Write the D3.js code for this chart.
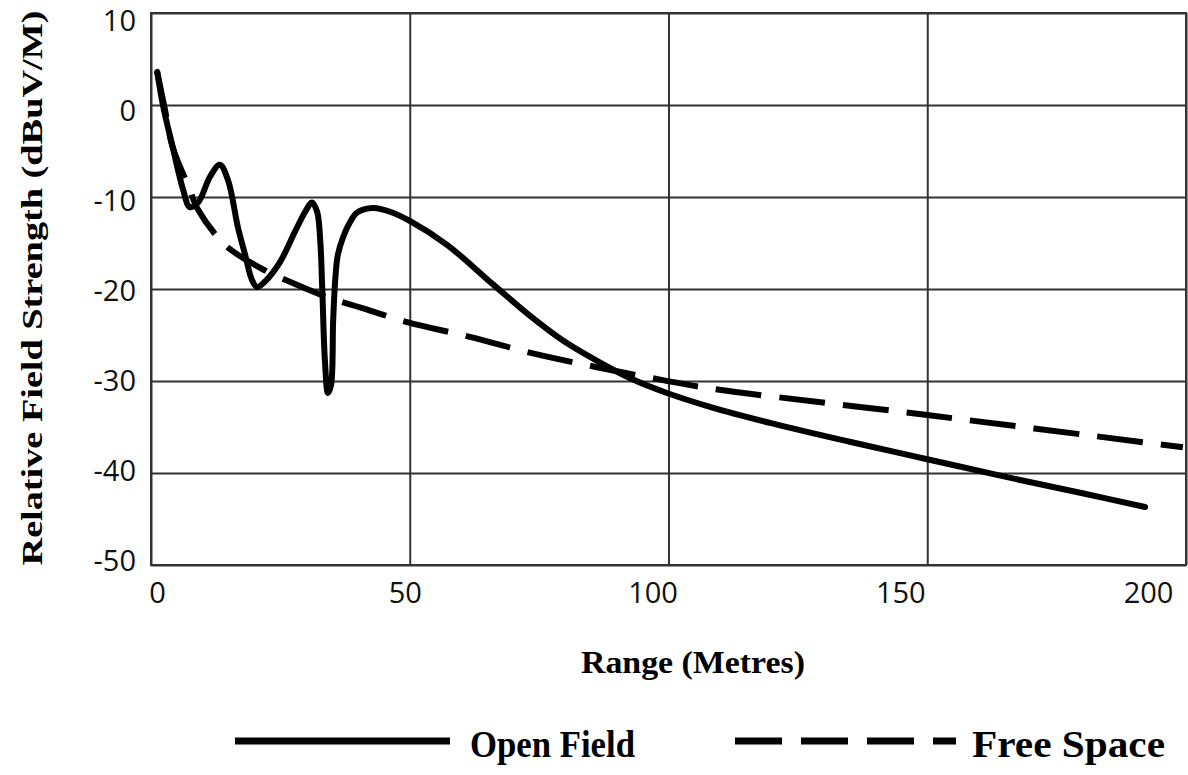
<!DOCTYPE html>
<html>
<head>
<meta charset="utf-8">
<script src="https://cdn.jsdelivr.net/npm/d3@7"></script>
<style>
  body { margin: 0; background: #fff; }
  svg { display: block; }
</style>
</head>
<body>
<svg id="chart" width="1188" height="775"></svg>
<script>
// ---- data ----
const openRange = [1.2, 2.3, 4.2, 6.2, 7.5, 9.1, 11.4, 13.3, 14.9, 16.8, 18.2, 19.5, 20.5, 22.0, 24.9, 27.8, 29.8, 31.1, 32.1, 32.7, 33.1, 33.6, 34.2, 34.8, 35.2, 35.6, 36.1, 37.1, 38.5, 39.8, 42.9, 46.2, 50.0, 57.2, 66.1, 73.2, 79.6, 86.8, 92.6, 99.7, 108.0, 120.0, 135.0, 150.0, 165.0, 180.0, 192.1];
const openLevel = [3.6, 0.0, -4.6, -9.2, -11.1, -10.6, -7.8, -6.5, -8.2, -13.3, -16.3, -19.0, -19.8, -19.2, -17.1, -13.8, -11.6, -10.6, -11.6, -14.7, -20.1, -27.7, -31.3, -30.4, -23.4, -19.0, -16.3, -14.4, -12.7, -11.7, -11.2, -11.6, -12.6, -15.2, -19.5, -22.9, -25.6, -28.0, -29.7, -31.3, -32.8, -34.6, -36.6, -38.5, -40.4, -42.2, -43.7];

const freeRange = [1.2, 2.7, 4.2, 7.5, 8.9, 14.3, 21.1, 28.4, 34.6, 41.0, 49.5, 61.6, 73.8, 86.2, 98.9, 108.0, 150.0, 199.4];
const freeLevel = [3.6, -0.5, -4.6, -9.2, -11.2, -15.2, -17.7, -19.6, -21.0, -22.1, -23.6, -25.2, -27.0, -28.5, -29.9, -30.8, -33.7, -37.2];

const xTicks = [0, 50, 100, 150, 200];
const yTicks = [10, 0, -10, -20, -30, -40, -50];

const seriesNames = ["Open Field", "Free Space"];

const svg = d3.select("#chart");

const plotLeft = 151, plotRight = 1186, plotTop = 13, plotBottom = 565;

// grid scales
const x = d3.scaleLinear().domain([0, 200]).range([plotLeft, plotRight]);
const y = d3.scaleLinear().domain([-50, 10]).range([plotBottom, plotTop]);

// tick label scales (labels sit slightly off the grid in the original)
const xLab = d3.scaleLinear().domain([0, 200]).range([157, 1148]);
const yLab = d3.scaleLinear().domain([-50, 10]).range([560, 20]);

svg.append("rect").attr("width", 1188).attr("height", 775).attr("fill", "#fff");

// --------------------------------------------------
// GRID
// --------------------------------------------------

const gridX = svg.append("g")
  .attr("transform", `translate(0,${plotBottom})`)
  .call(d3.axisBottom(x).tickValues(xTicks).tickSize(-(plotBottom - plotTop)).tickFormat(""));

const gridY = svg.append("g")
  .attr("transform", `translate(${plotLeft},0)`)
  .call(d3.axisLeft(y).tickValues(yTicks).tickSize(-(plotRight - plotLeft)).tickFormat(""));

[gridX, gridY].forEach(g => {
  g.select(".domain").remove();
  g.selectAll("line").attr("stroke", "#333").attr("stroke-width", 2);
});

svg.append("rect")
  .attr("x", plotLeft).attr("y", plotTop)
  .attr("width", plotRight - plotLeft).attr("height", plotBottom - plotTop)
  .attr("fill", "none").attr("stroke", "#333").attr("stroke-width", 2);

// --------------------------------------------------
// TICK LABELS
// --------------------------------------------------

const labX = svg.append("g")
  .attr("transform", `translate(0,${plotBottom + 17})`)
  .call(d3.axisBottom(xLab).tickValues(xTicks).tickSize(0).tickPadding(0).tickFormat(d => String(d)));

const labY = svg.append("g")
  .attr("transform", `translate(136,0)`)
  .call(d3.axisLeft(yLab).tickValues(yTicks).tickSize(0).tickPadding(0).tickFormat(d => String(d)));

[labX, labY].forEach(g => {
  g.select(".domain").remove();
  g.selectAll("text")
    .attr("font-family", "'Open Sans', sans-serif")
    .attr("font-size", 29)
    .attr("fill", "#111");
});
labY.selectAll("text").attr("dy", "0.35em");

// --------------------------------------------------
// AXIS TITLES
// --------------------------------------------------

svg.append("text")
  .attr("x", 693).attr("y", 673)
  .attr("text-anchor", "middle")
  .attr("font-family", "'Liberation Serif', serif")
  .attr("font-weight", "bold")
  .attr("font-size", 31)
  .attr("textLength", 224).attr("lengthAdjust", "spacingAndGlyphs")
  .text("Range (Metres)");

svg.append("text")
  .attr("transform", "translate(42,288) rotate(-90)")
  .attr("text-anchor", "middle")
  .attr("font-family", "'Liberation Serif', serif")
  .attr("font-weight", "bold")
  .attr("font-size", 30)
  .attr("textLength", 555).attr("lengthAdjust", "spacingAndGlyphs")
  .text("Relative Field Strength (dBuV/M)");

// --------------------------------------------------
// LINES
// --------------------------------------------------

const line = d3.line()
  .x(d => x(d[0]))
  .y(d => y(d[1]))
  .curve(d3.curveCatmullRom.alpha(0.5));

const freeData = freeRange.map((r, i) => [r, freeLevel[i]]);
const openData = openRange.map((r, i) => [r, openLevel[i]]);

svg.append("path")
  .datum(freeData)
  .attr("d", line)
  .attr("fill", "none")
  .attr("stroke", "#000")
  .attr("stroke-width", 6)
  .attr("stroke-dasharray", "46,18");

svg.append("path")
  .datum(openData)
  .attr("d", line)
  .attr("fill", "none")
  .attr("stroke", "#000")
  .attr("stroke-width", 6)
  .attr("stroke-linecap", "round");

// --------------------------------------------------
// LEGEND
// --------------------------------------------------

const legendItems = [
  { name: seriesNames[0], x0: 235, x1: 450, tx: 470, tw: 165, dash: null },
  { name: seriesNames[1], x0: 735, x1: 956, tx: 972, tw: 193, dash: "47,19" }
];

const legend = svg.append("g").attr("class", "legend");

legendItems.forEach(d => {
  legend.append("line")
    .attr("x1", d.x0).attr("x2", d.x1)
    .attr("y1", 741).attr("y2", 741)
    .attr("stroke", "#000")
    .attr("stroke-width", 7)
    .attr("stroke-dasharray", d.dash);
  legend.append("text")
    .attr("x", d.tx).attr("y", 757)
    .attr("font-family", "'Liberation Serif', serif")
    .attr("font-weight", "bold")
    .attr("font-size", 37)
    .attr("textLength", d.tw).attr("lengthAdjust", "spacingAndGlyphs")
    .text(d.name);
});
</script>
</body>
</html>
